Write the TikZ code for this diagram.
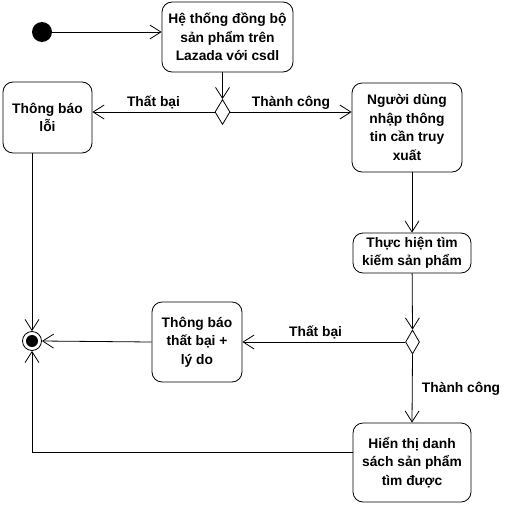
\documentclass[tikz,border=0pt]{standalone}
\usepackage{fontspec}
\setmainfont{Liberation Sans}
\usetikzlibrary{shapes.geometric,arrows.meta}
\begin{document}
\begin{tikzpicture}
[x=1pt, y=-1pt, line width=0.8pt,
act/.style ={draw, rounded corners=10pt, align=center, inner sep=0pt, font=\bfseries\fontsize{13.8}{18.5}\selectfont},
dec/.style ={draw, diamond, minimum width=15pt, minimum height=25pt, inner sep=0pt},
lbl/.style ={font=\bfseries\fontsize{13.8}{18.5}\selectfont},
flow/.style ={-{Straight Barb[length=11pt,width=14pt]}}]
\useasboundingbox (0,0) rectangle (516,506);
\node[circle, fill=black, minimum size=20pt, inner sep=0pt] (start) at (42,32) {};
\node[act, minimum width=131pt, minimum height=70pt] (sync) at (227.5,37) {Hệ thống đồng bộ\\sản phẩm trên\\Lazada với csdl};
\node[dec] (d1) at (222.5,112) {};
\node[act, minimum width=89pt, minimum height=71pt] (err) at (47.5,117.5) {Thông báo\\lỗi};
\node[act, minimum width=110pt, minimum height=89pt] (input) at (407,127.5) {Người dùng\\nhập thông\\tin cần truy\\xuất};
\node[act, minimum width=118pt, minimum height=40pt] (search) at (412,253) {Thực hiện tìm\\kiếm sản phẩm};
\node[dec, minimum width=14pt, minimum height=24pt] (d2) at (412.5,342) {};
\node[act, minimum width=90pt, minimum height=80pt] (fail) at (197,342) {Thông báo\\thất bại +\\lý do};
\node[act, minimum width=118pt, minimum height=79pt] (show) at (412,462.5) {Hiển thị danh\\sách sản phẩm\\tìm được};
\node[circle, draw, minimum size=19pt, inner sep=0pt] (end) at (32,341) {};
\node[circle, fill=black, minimum size=12pt, inner sep=0pt] at (end) {};
\draw[flow] (start) -- (start -| sync.west);
\draw[flow] (d1.north |- sync.south) -- (d1.north);
\draw[flow] (d1.west) -- (d1.west -| err.east) node[lbl, midway, above=-1pt] {Thất bại};
\draw[flow] (d1.east) -- (d1.east -| input.west) node[lbl, midway, above=-1pt] {Thành công};
\draw[flow] (search.north |- input.south) -- (search.north);
\draw[flow] (search) -- (d2.north);
\draw[flow] (d2.west) -- (fail.east) node[lbl, pos=0.55, above=-1pt] {Thất bại};
\draw[flow] (d2.south) -- (show.north) node[lbl, midway, right=6pt] {Thành công};
\draw[flow] (fail.west) -- (end.east);
\draw[flow] (end.north |- err.south) -- (end.north);
\draw[flow] ([yshift=10pt]show.west) -| (end.south);
\end{tikzpicture}
\end{document}
